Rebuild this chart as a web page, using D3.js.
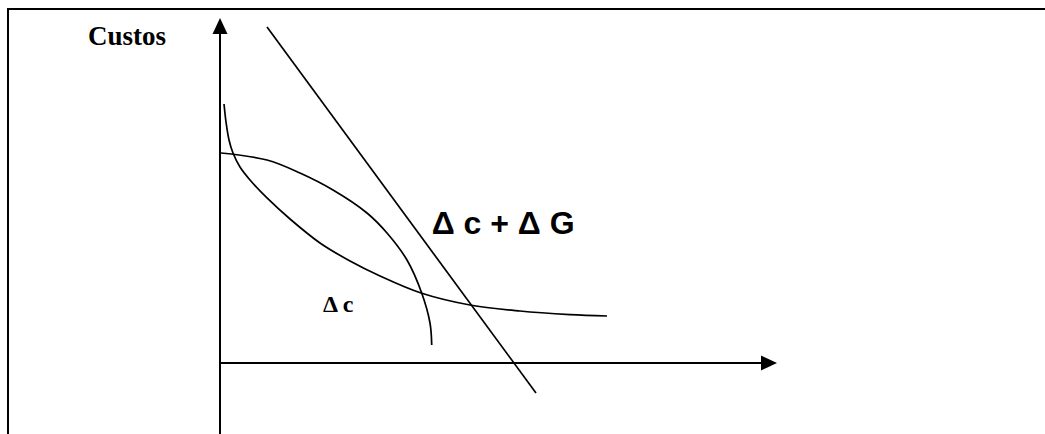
<!DOCTYPE html>
<html><head><meta charset="utf-8">
<script src="https://cdn.jsdelivr.net/npm/d3@7"></script>
<style>html,body{margin:0;padding:0;background:#fff;}svg{display:block;}</style>
</head><body>
<script>
// Data (conceptual units: x along quantity axis, y along "Custos")
const curveA = [[0.072,4.504],[0.108,4.191],[0.162,3.878],[0.233,3.652],[0.359,3.409],[0.539,3.183],[0.844,2.870],[1.257,2.504],[1.795,2.087],[2.334,1.774],[2.873,1.513],[3.609,1.217],[4.488,1.009],[5.386,0.904],[6.284,0.843],[6.948,0.817]];
const curveB = [[0.018,3.652],[0.844,3.530],[1.436,3.304],[2.029,3.009],[2.639,2.609],[2.998,2.261],[3.357,1.791],[3.621,1.217],[3.770,0.696],[3.801,0.313]];
const lineG = [[0.844,5.843],[5.673,-0.522]];
const labels = [
  {text:"Custos", x:-2.370, y:5.530, cls:"serif", size:27},
  {text:"Δ c + Δ G", x:3.800, y:2.243, cls:"sans", size:32},
  {text:"Δ c", x:1.849, y:0.887, cls:"serif", size:24}
];
const xDomain=[0,10], yDomain=[0,6];

const W=1045,H=434;
const svg=d3.select("body").append("svg").attr("width",W).attr("height",H);
const x=d3.scaleLinear().domain(xDomain).range([220,777]);
const y=d3.scaleLinear().domain(yDomain).range([363,18]);

// frame (left and top edges)
svg.append("path").attr("d",`M8,${H} V9 H${W}`).attr("fill","none").attr("stroke","#000").attr("stroke-width",2);

// axes
const ax=svg.append("g").attr("stroke","#000").attr("stroke-width",2);
ax.append("line").attr("x1",x(0)).attr("x2",x(0)).attr("y1",H).attr("y2",y(6)+12);
ax.append("line").attr("x1",x(0)).attr("x2",x(10)-12).attr("y1",y(0)).attr("y2",y(0));
svg.append("path").attr("d",`M${x(0)},${y(6)} L${x(0)-7.5},${y(6)+16} L${x(0)+7.5},${y(6)+16}Z`).attr("fill","#000");
svg.append("path").attr("d",`M${x(10)},${y(0)} L${x(10)-16},${y(0)-7.5} L${x(10)-16},${y(0)+7.5}Z`).attr("fill","#000");

const line=d3.line().x(d=>x(d[0])).y(d=>y(d[1])).curve(d3.curveCatmullRom.alpha(0.5));
[curveA,curveB].forEach(c=>svg.append("path").attr("d",line(c)).attr("fill","none").attr("stroke","#000").attr("stroke-width",1.7));
svg.append("path").attr("d",d3.line().x(d=>x(d[0])).y(d=>y(d[1]))(lineG)).attr("fill","none").attr("stroke","#000").attr("stroke-width",1.7);

svg.selectAll("text.lbl").data(labels).join("text").attr("class","lbl")
  .attr("x",d=>x(d.x)).attr("y",d=>y(d.y))
  .attr("font-family",d=>d.cls==="serif"?"'Liberation Serif','Times New Roman',serif":"'Liberation Sans',Arial,sans-serif")
  .attr("font-weight","bold").attr("font-size",d=>d.size+"px").attr("fill","#000")
  .text(d=>d.text);
</script>
</body></html>
